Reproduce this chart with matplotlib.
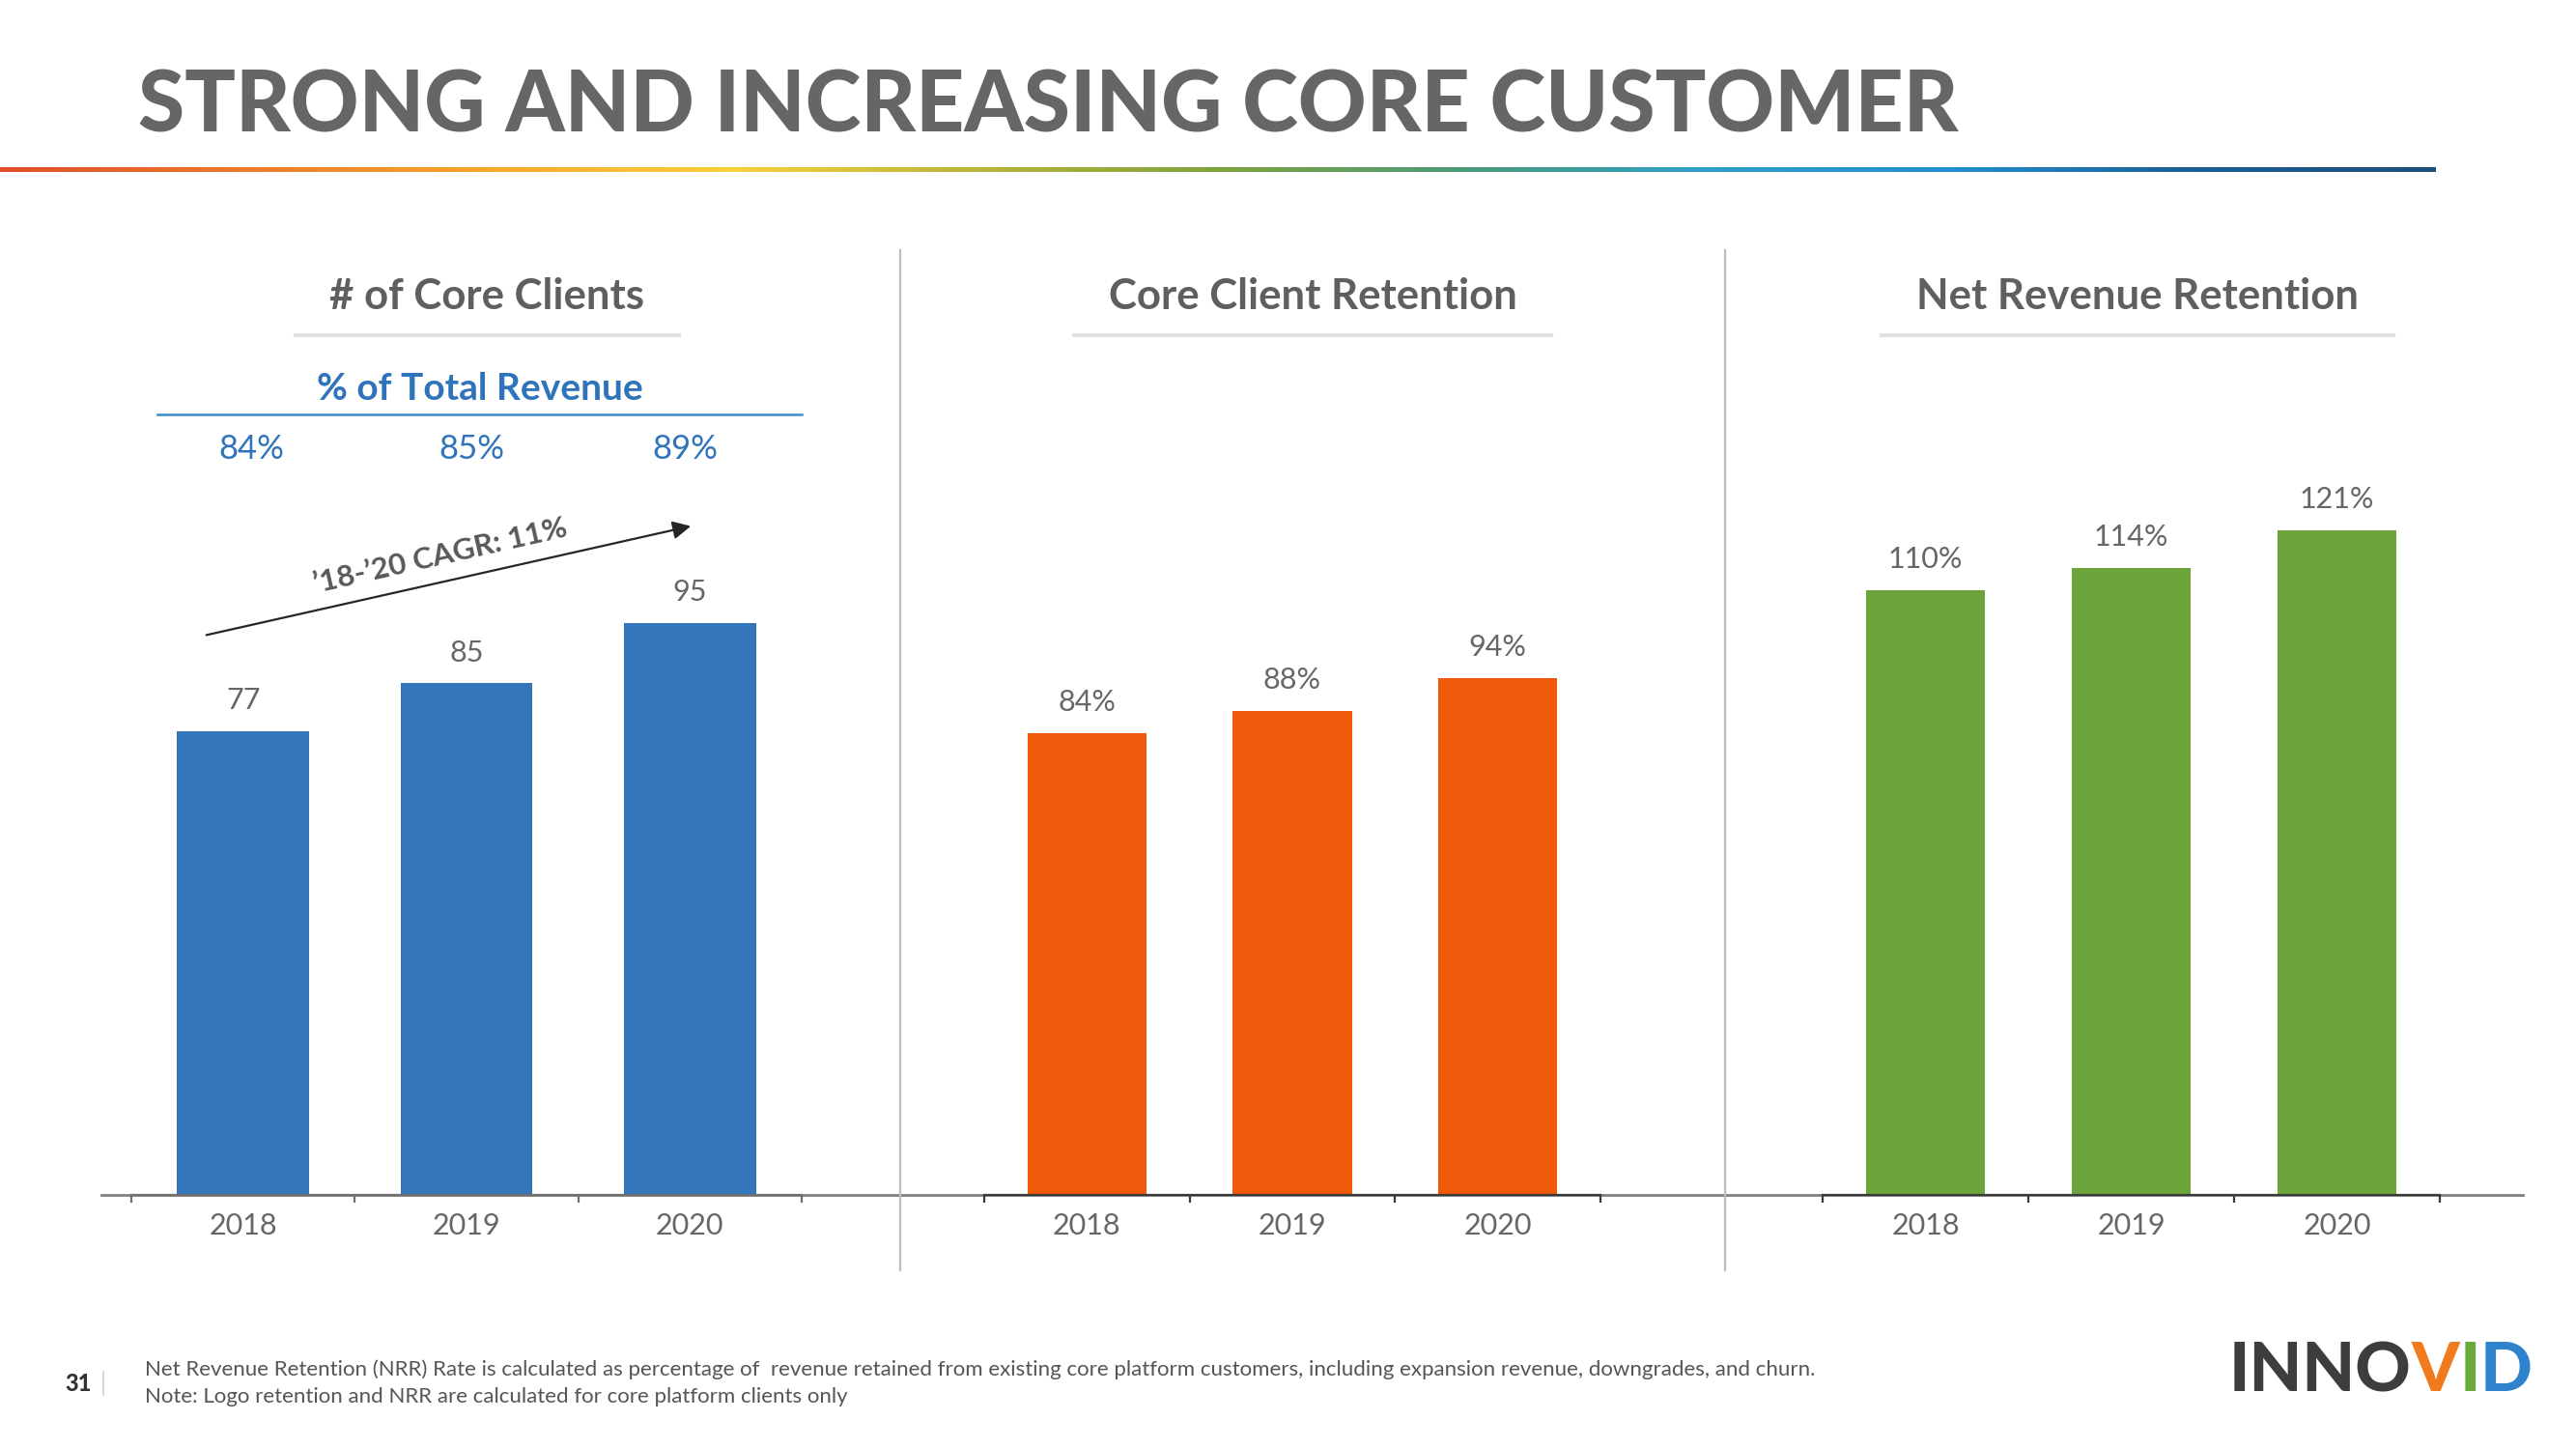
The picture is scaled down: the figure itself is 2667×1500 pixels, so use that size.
import matplotlib
matplotlib.use("Agg")
import matplotlib.pyplot as plt
import numpy as np
from matplotlib.colors import LinearSegmentedColormap
from matplotlib.lines import Line2D

plt.rcParams['font.family'] = ['Lato', 'DejaVu Sans']

# ---------------- data ----------------
years = ["2018", "2019", "2020"]
core_clients = [77, 85, 95]
pct_total_revenue = ["84%", "85%", "89%"]
client_retention = [84, 88, 94]
net_revenue_retention = [110, 114, 121]

title = "STRONG AND INCREASING CORE CUSTOMER"
panel_titles = ["# of Core Clients", "Core Client Retention", "Net Revenue Retention"]
sub_title = "% of Total Revenue"
cagr_label = "\u201918-\u201920 CAGR: 11%"
footnotes = ["Net Revenue Retention (NRR) Rate is calculated as percentage of  revenue retained from existing core platform customers, including expansion revenue, downgrades, and churn.",
             "Note: Logo retention and NRR are calculated for core platform clients only"]
page_no = "31"

BLUE = "#3376bc"
ORANGE = "#ef5a0a"
GREEN = "#6aa43a"
GRAY_TXT = "#666666"

W, H = 2667, 1500
fig = plt.figure(figsize=(W / 100, H / 100), dpi=100)

def fx(x):
    return x / W

def fy(y):
    return 1 - y / H

# ---------------- title & gradient rule ----------------
fig.text(fx(143), fy(111), title, fontsize=63, fontweight='black', color="#666666",
         ha='left', va='center')

grad_colors = ["#df4f2b", "#ee7a2a", "#f6a72b", "#f8d03a", "#b9b43a", "#7ea33d",
               "#4b9a78", "#2f9fc6", "#2290d2", "#1c5f93", "#1b4f7c"]
cmap = LinearSegmentedColormap.from_list("rule", grad_colors)
gax = fig.add_axes([0, fy(178), fx(2522), 5 / H])
gax.imshow(np.linspace(0, 1, 512)[None, :], aspect='auto', cmap=cmap, extent=[0, 1, 0, 1])
gax.axis('off')

# ---------------- axes ----------------
base_y = 1237
top_y = 259
ax_h = (base_y - top_y) / H
panels = [
    (136, 830, core_clients, BLUE, 978 / 6.23, [str(v) for v in core_clients], 0.59),
    (1019, 1657, client_retention, ORANGE, 978 / 5.69, [f"{v}%" for v in client_retention], 0.58),
    (1887, 2526, net_revenue_retention, GREEN, 978 / 5.69, [f"{v}%" for v in net_revenue_retention], 0.58),
]

# background baseline
fig.add_artist(Line2D([fx(105), fx(2612)], [fy(base_y), fy(base_y)], color="#808080", lw=2.0,
                      transform=fig.transFigure, zorder=0))

axes = []
for i, (x0, x1, vals, col, ytop, labels, bw) in enumerate(panels):
    ax = fig.add_axes([fx(x0), fy(base_y), (x1 - x0) / W, ax_h])
    ax.set_facecolor('none')
    x = np.arange(len(years))
    ax.bar(x, vals, width=bw, color=col, zorder=2)
    ax.set_xlim(-0.5, 2.5)
    ax.set_ylim(0, ytop)
    for s in ['top', 'right', 'left']:
        ax.spines[s].set_visible(False)
    spine_col = "#707070" if i == 0 else "#3a3a3a"
    ax.spines['bottom'].set_color(spine_col)
    ax.spines['bottom'].set_linewidth(1.6)
    ax.set_yticks([])
    ax.set_xticks(x)
    ax.set_xticklabels(years, fontsize=22, color=GRAY_TXT)
    ax.tick_params(axis='x', which='major', length=0, pad=13)
    ax.set_xticks([-0.5, 0.5, 1.5, 2.5], minor=True)
    ax.tick_params(axis='x', which='minor', length=6, width=1.6, color=spine_col, direction='out')
    for xi, v, lab in zip(x, vals, labels):
        ax.annotate(lab, (xi, v), xytext=(0, 23), textcoords='offset points',
                    ha='center', va='center', fontsize=22, color=GRAY_TXT)
    axes.append(ax)

# dividers
for xd in (932, 1786):
    fig.add_artist(Line2D([fx(xd), fx(xd)], [fy(259), fy(1315)], color="#bdbdbd", lw=1.6,
                          transform=fig.transFigure, zorder=0))

# panel headers
header_cx = [504, 1359, 2213]
underline = [(306, 703), (1112, 1606), (1948, 2478)]
for t, cx, (u0, u1) in zip(panel_titles, header_cx, underline):
    fig.text(fx(cx), fy(307), t, fontsize=31.5, fontweight='bold', color="#5f5f5f",
             ha='center', va='center')
    fig.add_artist(Line2D([fx(u0), fx(u1)], [fy(347), fy(347)], color="#e2e2e2", lw=3,
                          transform=fig.transFigure))

# % of total revenue
fig.text(fx(497), fy(403), sub_title, fontsize=28, fontweight='bold', color="#2f74ba",
         ha='center', va='center')
fig.add_artist(Line2D([fx(163), fx(830)], [fy(429), fy(429)], color="#3a8fc8", lw=1.8,
                      transform=fig.transFigure))
for cx, p in zip([260, 488, 709], pct_total_revenue):
    fig.text(fx(cx), fy(465), p, fontsize=25, color="#2f74ba", ha='center', va='center')

# CAGR arrow
fig.add_artist(matplotlib.patches.FancyArrowPatch(
    (fx(211), fy(658)), (fx(718), fy(544)), transform=fig.transFigure,
    arrowstyle='-|>', mutation_scale=28, color="#262626", lw=1.6))
ang = np.degrees(np.arctan2(114, 505))
fig.text(fx(456), fy(576), cagr_label, fontsize=22.5, fontweight='bold', color="#595959",
         ha='center', va='center', rotation=ang, rotation_mode='anchor')

# footer
fig.text(fx(81), fy(1432), page_no, fontsize=17, fontweight='black', color="#333333",
         ha='center', va='center')
fig.add_artist(Line2D([fx(107), fx(107)], [fy(1420), fy(1444)], color="#d0d0d0", lw=1.2,
                      transform=fig.transFigure))
fig.text(fx(150), fy(1418), footnotes[0], fontsize=16, color="#555555", ha='left', va='center')
fig.text(fx(150), fy(1446), footnotes[1], fontsize=16, color="#555555", ha='left', va='center')

# logo
renderer = fig.canvas.get_renderer()
logo_parts = [("INNO", "#3d3d3f"), ("V", "#f07a1c"), ("I", "#6aab3c"), ("D", "#2f82cc")]
xcur = 2308
for txt, col in logo_parts:
    t = fig.text(fx(xcur), fy(1420), txt, fontsize=51, fontweight='black', color=col,
                 ha='left', va='center')
    bb = t.get_window_extent(renderer=renderer)
    xcur += bb.width

fig.savefig("out.png", dpi=100, facecolor='white')
